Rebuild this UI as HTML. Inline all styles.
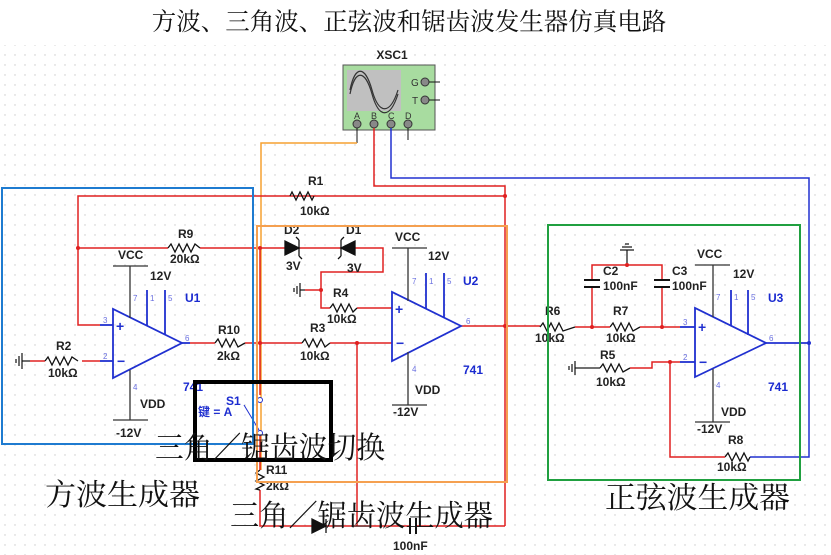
<!DOCTYPE html>
<html><head><meta charset="utf-8"><style>
html,body{margin:0;padding:0;background:#fff}
svg{display:block}
.t{font-family:"Liberation Sans",sans-serif;font-weight:bold;font-size:12px;fill:#222}
.b{font-family:"Liberation Sans",sans-serif;font-weight:bold;font-size:12px;fill:#1a2ad0}
.p{font-family:"Liberation Sans",sans-serif;font-size:8px;fill:#6a70e0}
.cn{font-family:"Liberation Serif","Noto Serif CJK SC",serif;fill:#111}
</style></head><body>
<svg width="831" height="555" viewBox="0 0 831 555" xmlns="http://www.w3.org/2000/svg">
<defs><pattern id="g" width="10" height="10" patternUnits="userSpaceOnUse"><circle cx="5" cy="5" r="0.7" fill="#c8c8c8"/></pattern></defs>
<rect width="831" height="555" fill="#fff"/>
<rect x="0" y="45" width="831" height="510" fill="url(#g)"/>
<text x="409" y="30" text-anchor="middle" class="cn" font-size="24.5">方波、三角波、正弦波和锯齿波发生器仿真电路</text>

<!-- scope -->
<text x="392" y="59" text-anchor="middle" class="t" font-family="Liberation Mono" font-size="11">XSC1</text>
<rect x="343" y="65" width="92" height="65" fill="#a8dca0" stroke="#555"/>
<rect x="347" y="70" width="54" height="41" fill="#c0c0c0"/>
<path d="M350 90 C355 65,365 65,372 90 S390 115,398 90" stroke="#333" fill="none" stroke-width="1.2"/>
<path d="M350 94 C355 69,365 69,372 94 S390 119,398 94" stroke="#333" fill="none" stroke-width="1.2"/>
<text x="411" y="86" font-size="10" font-family="Liberation Sans" fill="#333">G</text>
<text x="412" y="104" font-size="10" font-family="Liberation Sans" fill="#333">T</text>
<circle cx="425" cy="82" r="4" fill="#888" stroke="#333"/><line x1="429" y1="82" x2="440" y2="82" stroke="#111"/>
<circle cx="425" cy="100" r="4" fill="#888" stroke="#333"/><line x1="429" y1="100" x2="440" y2="100" stroke="#111"/>
<g font-size="9" font-family="Liberation Sans" fill="#333">
<text x="354" y="119">A</text><text x="371" y="119">B</text><text x="388" y="119">C</text><text x="405" y="119">D</text></g>
<g fill="#888" stroke="#333"><circle cx="357" cy="124" r="4"/><circle cx="374" cy="124" r="4"/><circle cx="391" cy="124" r="4"/><circle cx="408" cy="124" r="4"/></g>
<line x1="408" y1="128" x2="408" y2="140" stroke="#111"/>
<line x1="357" y1="128" x2="357" y2="143" stroke="#111"/>
<polyline points="357,143 261,143 261,470" fill="none" stroke="#f5a030" stroke-width="1.5"/>
<polyline points="374,128 374,186 505,186 505,526" fill="none" stroke="#e02020" stroke-width="1.5"/>
<polyline points="391,128 391,178 809,178 809,457 750,457" fill="none" stroke="#2030d0" stroke-width="1.5"/>

<!-- Section 1 wires -->
<g fill="none" stroke="#e02020" stroke-width="1.5">
<polyline points="505,196 78,196 78,325 100,325"/>
<line x1="78" y1="248" x2="168" y2="248"/><line x1="200" y1="248" x2="283" y2="248"/>
<line x1="260" y1="248" x2="260" y2="395"/>
<line x1="190" y1="343" x2="215" y2="343"/><line x1="245" y1="343" x2="302" y2="343"/>
<line x1="330" y1="343" x2="392" y2="343"/>
<line x1="357" y1="343" x2="357" y2="526"/>
<polyline points="260,490 260,526 505,526"/>
<polyline points="82,361 100,361"/>
<line x1="30" y1="361" x2="45" y2="361"/>
<polyline points="283,248 383,248 383,272 321,272 321,308 330,308"/>
<line x1="357" y1="308" x2="392" y2="308"/>
<line x1="305" y1="290" x2="321" y2="290"/>
<line x1="461" y1="326" x2="540" y2="326"/>
</g>
<!-- resistors -->
<g fill="none" stroke="#111" stroke-width="1.3">
<polyline points="290,196 292,192 296,200 300,192 304,200 308,192 312,200 314,196"/>
<polyline points="168,248 171,244 175,252 179,244 183,252 187,244 191,252 195,244 200,248"/>
<polyline points="45,361 48,357 52,365 56,357 60,365 64,357 68,365 72,357 78,361"/>
<polyline points="215,343 218,339 222,347 226,339 230,347 234,339 238,347 245,343"/>
<polyline points="302,343 305,339 309,347 313,339 317,347 321,339 325,347 330,343"/>
<polyline points="330,308 333,304 337,312 341,304 345,312 349,304 353,312 357,308"/>
<polyline points="260,470 256,473 264,477 256,481 264,485 256,489 260,490"/>
<polyline points="540,327 543,323 547,331 551,323 555,331 559,323 563,331 575,327"/>
<polyline points="610,327 613,323 617,331 621,323 625,331 629,323 633,331 640,327"/>
<polyline points="600,368 603,364 607,372 611,364 615,372 619,364 623,372 630,368"/>
<polyline points="725,457 728,453 732,461 736,453 740,461 744,453 748,461 750,457"/>
</g>
<!-- grounds -->
<g stroke="#111" stroke-width="1.2">
<line x1="30" y1="361" x2="22" y2="361"/><line x1="22" y1="353" x2="22" y2="369"/><line x1="19" y1="356" x2="19" y2="366"/><line x1="16" y1="359" x2="16" y2="363"/>
<line x1="305" y1="290" x2="300" y2="290"/><line x1="300" y1="283" x2="300" y2="297"/><line x1="297" y1="286" x2="297" y2="294"/><line x1="294" y1="288" x2="294" y2="292"/>
<line x1="585" y1="368" x2="575" y2="368"/><line x1="575" y1="361" x2="575" y2="375"/><line x1="572" y1="364" x2="572" y2="372"/><line x1="569" y1="366" x2="569" y2="370"/>
<line x1="627" y1="265" x2="627" y2="250"/><line x1="620" y1="250" x2="634" y2="250"/><line x1="622" y1="247" x2="632" y2="247"/><line x1="625" y1="244" x2="629" y2="244"/>
<line x1="585" y1="368" x2="600" y2="368"/>
</g>
<!-- diodes -->
<g fill="#111" stroke="#111" stroke-width="1.3">
<polygon points="285,241 285,255 299,248"/><path d="M299 240 L299 256 M299 240 l-3 -3 M299 256 l3 3" fill="none"/>
<polygon points="355,241 355,255 341,248"/><path d="M341 240 L341 256 M341 240 l3 -3 M341 256 l-3 3" fill="none"/>
<polygon points="312,519 312,533 326,526"/><line x1="326" y1="519" x2="326" y2="533"/>
</g>
<line x1="410" y1="518" x2="410" y2="534" stroke="#111" stroke-width="2"/><line x1="416" y1="518" x2="416" y2="534" stroke="#111" stroke-width="2"/>
<rect x="411" y="520" width="4" height="14" fill="#fff"/>
<!-- opamps -->
<g fill="none" stroke="#2030d0" stroke-width="1.8">
<polygon points="113,309 113,378 182,343"/>
<polygon points="392,292 392,361 461,326"/>
<polygon points="695,308 695,377 766,343"/>
<line x1="100" y1="325" x2="113" y2="325"/><line x1="100" y1="361" x2="113" y2="361"/><line x1="182" y1="343" x2="190" y2="343"/>
<line x1="147" y1="290" x2="147" y2="326"/><line x1="165" y1="290" x2="165" y2="335"/>
<line x1="426" y1="273" x2="426" y2="309"/><line x1="444" y1="273" x2="444" y2="318"/>
<line x1="731" y1="290" x2="731" y2="326"/><line x1="748" y1="290" x2="748" y2="335"/>
<line x1="766" y1="343" x2="809" y2="343"/>
<line x1="680" y1="362" x2="695" y2="362"/><line x1="680" y1="327" x2="695" y2="327"/>
</g>
<circle cx="809" cy="343" r="2" fill="#2030d0"/>
<g stroke="#333" stroke-width="1.3">
<line x1="113" y1="266" x2="148" y2="266"/><line x1="130" y1="266" x2="130" y2="318"/>
<line x1="130" y1="370" x2="130" y2="420"/><line x1="113" y1="420" x2="148" y2="420"/>
<line x1="392" y1="248" x2="427" y2="248"/><line x1="408" y1="248" x2="408" y2="301"/>
<line x1="408" y1="352" x2="408" y2="405"/><line x1="392" y1="405" x2="427" y2="405"/>
<line x1="695" y1="265" x2="730" y2="265"/><line x1="713" y1="265" x2="713" y2="317"/>
<line x1="713" y1="369" x2="713" y2="422"/><line x1="695" y1="422" x2="730" y2="422"/>
</g>
<g font-size="14" fill="#2030d0" font-family="Liberation Sans" font-weight="bold">
<text x="116" y="331">+</text><text x="117" y="366">−</text>
<text x="395" y="314">+</text><text x="396" y="348">−</text>
<text x="698" y="332">+</text><text x="699" y="367">−</text></g>
<!-- section 3 wires -->
<g fill="none" stroke="#e02020" stroke-width="1.5">
<line x1="575" y1="327" x2="610" y2="327"/><line x1="640" y1="327" x2="680" y2="327"/>
<polyline points="592,327 592,265 662,265 662,327"/>
<polyline points="680,362 670,362 652,362 652,368 630,368"/>
<polyline points="670,362 670,457 725,457"/>
</g>
<g fill="#fff"><rect x="586" y="280" width="12" height="8"/><rect x="656" y="280" width="12" height="8"/></g>
<g stroke="#111" stroke-width="2"><line x1="584" y1="280" x2="600" y2="280"/><line x1="584" y1="287" x2="600" y2="287"/><line x1="654" y1="280" x2="670" y2="280"/><line x1="654" y1="287" x2="670" y2="287"/></g>
<g fill="#e02020"><circle cx="78" cy="248" r="2"/><circle cx="260" cy="248" r="2"/><circle cx="260" cy="343" r="2"/><circle cx="357" cy="343" r="2"/><circle cx="505" cy="326" r="2"/><circle cx="505" cy="196" r="2"/><circle cx="592" cy="327" r="2"/><circle cx="662" cy="327" r="2"/><circle cx="627" cy="265" r="2"/><circle cx="670" cy="362" r="2"/><circle cx="321" cy="290" r="2"/></g>
<!-- switch -->
<circle cx="260" cy="400" r="2.5" fill="#fff" stroke="#2030d0"/><circle cx="260" cy="433" r="2.5" fill="#fff" stroke="#2030d0"/>
<line x1="244" y1="405" x2="259" y2="430" stroke="#2030d0"/>
<line x1="260" y1="436" x2="260" y2="470" stroke="#e02020" stroke-width="1.5"/>
<!-- labels -->
<g class="t">
<text x="308" y="185">R1</text><text x="300" y="215">10kΩ</text>
<text x="178" y="238">R9</text><text x="170" y="263">20kΩ</text>
<text x="118" y="259">VCC</text><text x="150" y="280">12V</text>
<text x="140" y="408">VDD</text><text x="116" y="437">-12V</text>
<text x="56" y="350">R2</text><text x="48" y="377">10kΩ</text>
<text x="218" y="334">R10</text><text x="217" y="360">2kΩ</text>
<text x="284" y="234">D2</text><text x="346" y="234">D1</text>
<text x="286" y="270">3V</text><text x="347" y="272">3V</text>
<text x="395" y="241">VCC</text><text x="428" y="260">12V</text>
<text x="333" y="297">R4</text><text x="327" y="323">10kΩ</text>
<text x="310" y="332">R3</text><text x="300" y="360">10kΩ</text>
<text x="415" y="394">VDD</text><text x="393" y="416">-12V</text>
<text x="266" y="474">R11</text><text x="266" y="490">2kΩ</text>
<text x="393" y="550">100nF</text>
<text x="545" y="315">R6</text><text x="535" y="342">10kΩ</text>
<text x="613" y="315">R7</text><text x="606" y="342">10kΩ</text>
<text x="603" y="275">C2</text><text x="603" y="290">100nF</text>
<text x="672" y="275">C3</text><text x="672" y="290">100nF</text>
<text x="600" y="359">R5</text><text x="596" y="386">10kΩ</text>
<text x="697" y="258">VCC</text><text x="733" y="278">12V</text>
<text x="721" y="416">VDD</text><text x="697" y="433">-12V</text>
<text x="728" y="444">R8</text><text x="717" y="471">10kΩ</text>
</g>
<g class="b">
<text x="185" y="302">U1</text><text x="183" y="391">741</text>
<text x="463" y="285">U2</text><text x="463" y="374">741</text>
<text x="768" y="302">U3</text><text x="768" y="391">741</text>
<text x="226" y="405">S1</text>
</g>
<text x="198" y="416" font-size="12" font-weight="bold" fill="#2030d0" font-family="Liberation Sans,Noto Sans CJK SC,sans-serif">键 = A</text>
<g class="p"><text x="133" y="301">7</text><text x="150" y="301">1</text><text x="168" y="301">5</text><text x="103" y="323">3</text><text x="103" y="359">2</text><text x="185" y="341">6</text><text x="133" y="390">4</text>
<text x="412" y="284">7</text><text x="429" y="284">1</text><text x="447" y="284">5</text><text x="466" y="324">6</text><text x="412" y="372">4</text>
<text x="716" y="300">7</text><text x="734" y="300">1</text><text x="751" y="300">5</text><text x="683" y="325">3</text><text x="683" y="360">2</text><text x="769" y="341">6</text><text x="716" y="388">4</text></g>

<!-- boxes -->
<rect x="2" y="188" width="251" height="256" fill="none" stroke="#1e7bd0" stroke-width="2"/>
<rect x="257" y="226" width="250" height="256" fill="none" stroke="#f5a050" stroke-width="2"/>
<rect x="548" y="225" width="252" height="255" fill="none" stroke="#20a040" stroke-width="2"/>
<rect x="195" y="382" width="136" height="78" fill="none" stroke="#000" stroke-width="4"/>
<g class="cn" font-size="30">
<text x="155" y="458" textLength="230" lengthAdjust="spacingAndGlyphs">三角／锯齿波切换</text>
<text x="45" y="505" textLength="155" lengthAdjust="spacingAndGlyphs">方波生成器</text>
<text x="230" y="526" textLength="263" lengthAdjust="spacingAndGlyphs">三角／锯齿波生成器</text>
<text x="605" y="508" textLength="185" lengthAdjust="spacingAndGlyphs">正弦波生成器</text>
</g>
</svg>
</body></html>
